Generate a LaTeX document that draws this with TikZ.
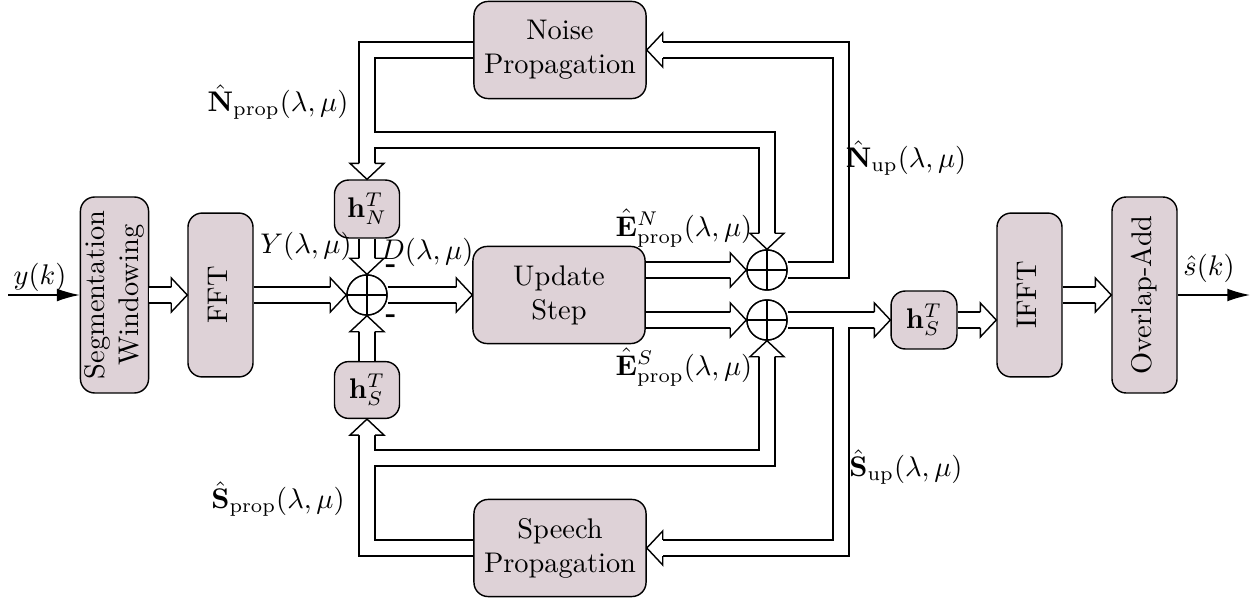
\documentclass[tikz,border=0pt]{standalone}
\usepackage{amsmath}
\usepackage{graphicx}
\usetikzlibrary{arrows.meta,decorations.markings}
\definecolor{boxc}{RGB}{222,210,215}
\newcommand\rtext[1]{\rotatebox{90}{\begin{tabular}{@{}c@{}}#1\end{tabular}}}
\begin{document}
\begin{tikzpicture}[x=0.3521pt,y=-0.3521pt,
  blk/.style={draw,line width=0.5pt,fill=boxc,rounded corners=5pt,align=center,inner sep=0pt},
  sumn/.style={draw,line width=0.5pt,circle,minimum size=14.1pt,inner sep=0pt,fill=white,
    path picture={\draw[line width=0.5pt] (path picture bounding box.north) -- (path picture bounding box.south) (path picture bounding box.west) -- (path picture bounding box.east);}},
  lbl/.style={inner sep=0pt},
  outerp/.style={line width=6.13pt,draw=black,shorten >=5.5pt},
  innerp/.style={line width=5.13pt,draw=white,shorten >=5.5pt},
  headp/.style={decoration={markings,mark=at position 1 with {
     \fill[white] (-5.63pt,5.99pt) -- (0pt,0pt) -- (-5.63pt,-5.99pt) -- cycle;
     \draw[line width=0.5pt,black,line join=miter] (-5.63pt,2.82pt) -- (-5.63pt,5.99pt) -- (0pt,0pt) -- (-5.63pt,-5.99pt) -- (-5.63pt,-2.82pt);}}, decorate},
  sig/.style={line width=0.5pt,-{Latex[length=8pt,width=4.5pt]}}
]
\useasboundingbox (0,0) rectangle (1256,603);
% blocks
\node[blk,minimum width=22.9pt,minimum height=69pt] (seg) at (114.5,295) {\rtext{Segmentation\\Windowing}};
\node[blk,minimum width=22.9pt,minimum height=57.7pt] (fft) at (220.5,295) {\rtext{FFT}};
\node[blk,minimum width=22.9pt,minimum height=20.4pt] (hN) at (367,209) {$\mathbf{h}_N^T$};
\node[blk,minimum width=22.9pt,minimum height=20pt] (hS) at (367,390) {$\mathbf{h}_S^T$};
\node[sumn] (s1) at (367,295) {};
\node[blk,minimum width=60.6pt,minimum height=34.2pt] (upd) at (559,295) {Update\\Step};
\node[sumn] (s2) at (767,270) {};
\node[sumn] (s3) at (767,320) {};
\node[blk,minimum width=60.6pt,minimum height=34.2pt] (noise) at (560,50) {Noise\\Propagation};
\node[blk,minimum width=60.6pt,minimum height=34.2pt] (speech) at (560,548) {Speech\\Propagation};
\node[blk,minimum width=23.2pt,minimum height=20.4pt] (hSR) at (924,320) {$\mathbf{h}_S^T$};
\node[blk,minimum width=22.9pt,minimum height=57.7pt] (ifft) at (1029.5,295) {\rtext{IFFT}};
\node[blk,minimum width=22.9pt,minimum height=69pt] (ola) at (1144.5,295) {\rtext{Overlap-Add}};
% helper coordinates
\coordinate (nr) at (841,50);
\coordinate (nb) at (367,140);
\coordinate (sr) at (841,320);
\coordinate (sb) at (367,458);
\coordinate (in) at (8,295);
\coordinate (out) at (1250,295);
% paths
\def\pA{(seg.east) -- (fft.west)}
\def\pB{(fft.east) -- (s1.west)}
\def\pC{(hN.south) -- (s1.north)}
\def\pD{(hS.north) -- (s1.south)}
\def\pE{(s1.east) -- (upd.west)}
\def\pF{(upd.east |- s2) -- (s2.west)}
\def\pG{(upd.east |- s3) -- (s3.west)}
\def\pH{(s2.east) -| (nr) -- (noise.east)}
\def\pI{(noise.west) -| (hN.north)}
\def\pJ{(nb) -| (s2.north)}
\def\pK{(s3.east) -- (hSR.west)}
\def\pL{(sr) |- (speech.east)}
\def\pM{(speech.west) -| (hS.south)}
\def\pN{(sb) -| (s3.south)}
\def\pO{(hSR.east) -- (ifft.west |- hSR)}
\def\pP{(ifft.east) -- (ola.west)}
\foreach \p in {\pA,\pB,\pC,\pD,\pE,\pF,\pG,\pH,\pI,\pJ,\pK,\pL,\pM,\pN,\pO,\pP}{\draw[outerp] \p;}
\foreach \p in {\pA,\pB,\pC,\pD,\pE,\pF,\pG,\pH,\pI,\pJ,\pK,\pL,\pM,\pN,\pO,\pP}{\draw[innerp] \p;}
\foreach \p in {\pA,\pB,\pC,\pD,\pE,\pF,\pG,\pH,\pI,\pJ,\pK,\pL,\pM,\pN,\pO,\pP}{\path[headp] \p;}
% redraw sum circles on top
\node[sumn] at (s1) {};
\node[sumn] at (s2) {};
\node[sumn] at (s3) {};
% signal arrows
\draw[sig] (in) -- (seg.west);
\draw[sig] (ola.east) -- (out);
% labels
\node[lbl] (ly) at (40,277) {$y(k)$};
\node[lbl] (lY) at (306,246) {$Y(\lambda,\mu)$};
\node[lbl] (lD) at (427,252) {$D(\lambda,\mu)$};
\node[lbl] (m1) at (391,269) {\textbf{-}};
\node[lbl] (m2) at (391,319) {\textbf{-}};
\node[lbl] (lEN) at (684,228) {$\hat{\mathbf{E}}^N_{\text{prop}}(\lambda,\mu)$};
\node[lbl] (lES) at (684,367) {$\hat{\mathbf{E}}^S_{\text{prop}}(\lambda,\mu)$};
\node[lbl] (lNu) at (906,158) {$\hat{\mathbf{N}}_{\text{up}}(\lambda,\mu)$};
\node[lbl] (lSu) at (906,467) {$\hat{\mathbf{S}}_{\text{up}}(\lambda,\mu)$};
\node[lbl] (lNp) at (278,102) {$\hat{\mathbf{N}}_{\text{prop}}(\lambda,\mu)$};
\node[lbl] (lSp) at (278,499) {$\hat{\mathbf{S}}_{\text{prop}}(\lambda,\mu)$};
\node[lbl] (ls) at (1209,268) {$\hat{s}(k)$};
\end{tikzpicture}
\end{document}
